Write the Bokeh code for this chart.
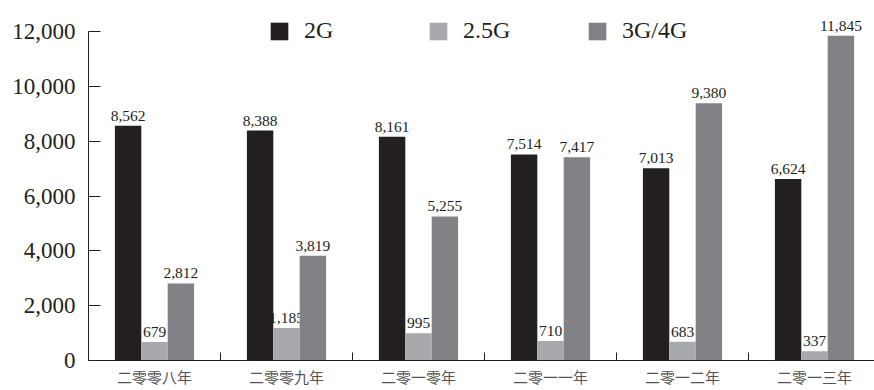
from bokeh.plotting import figure
from bokeh.models import (ColumnDataSource, Range1d, FixedTicker, NumeralTickFormatter,
                          Legend, LegendItem, LinearAxis)
from bokeh.core.properties import value
from bokeh.embed import file_html
from bokeh.resources import INLINE

# ---- data ----
years = ["二零零八年", "二零零九年", "二零一零年", "二零一一年", "二零一二年", "二零一三年"]
series_names = ["2G", "2.5G", "3G/4G"]
g2 = [8562, 8388, 8161, 7514, 7013, 6624]
g25 = [679, 1185, 995, 710, 683, 337]
g34 = [2812, 3819, 5255, 7417, 9380, 11845]
y_ticks = [0, 2000, 4000, 6000, 8000, 10000, 12000]

colors = ["#231f20", "#a7a9ac", "#808285"]
offsets = [-0.2, 0.0, 0.2]
serif = "Liberation Serif"
ink = "#231f20"

p = figure(width=874, height=390, output_backend="svg", toolbar_location=None,
           x_axis_type=None, y_axis_type=None,
           min_border_left=88, min_border_right=0, min_border_top=0, min_border_bottom=30)
p.x_range = Range1d(0, 786 / 132)
p.y_range = Range1d(0, 13131)
p.outline_line_color = None
p.xgrid.visible = False
p.ygrid.visible = False
p.background_fill_color = "white"
p.border_fill_color = "white"

# axes
yaxis = LinearAxis(ticker=FixedTicker(ticks=y_ticks),
                   formatter=NumeralTickFormatter(format="0,0"))
yaxis.bounds = (0, 12000)
yaxis.major_tick_in = 12
yaxis.major_tick_out = 0
yaxis.minor_tick_line_color = None
yaxis.axis_line_color = ink
yaxis.major_tick_line_color = ink
yaxis.major_label_text_font = serif
yaxis.major_label_text_font_size = "23px"
yaxis.major_label_text_color = ink
yaxis.major_label_standoff = 13
p.add_layout(yaxis, "left")

centers = [i + 0.5 for i in range(len(years))]
xaxis = LinearAxis(ticker=FixedTicker(ticks=centers, minor_ticks=[1, 2, 3, 4, 5]))
xaxis.major_label_overrides = {c: y for c, y in zip(centers, years)}
xaxis.major_tick_in = 0
xaxis.major_tick_out = 0
xaxis.major_tick_line_color = None
xaxis.minor_tick_in = 8
xaxis.minor_tick_out = 0
xaxis.minor_tick_line_color = ink
xaxis.axis_line_color = ink
xaxis.major_label_text_font = "Noto Sans CJK SC"
xaxis.major_label_text_font_size = "15px"
xaxis.major_label_text_color = "#555555"
xaxis.major_label_standoff = 5
p.add_layout(xaxis, "below")

items = []
for vals, name, col, off in zip([g2, g25, g34], series_names, colors, offsets):
    src = ColumnDataSource(dict(x=[c + off for c in centers], top=vals,
                                lab=[f"{v:,}" for v in vals]))
    r = p.vbar(x="x", top="top", width=0.2, bottom=0, source=src,
               fill_color=col, line_color=None)
    p.text(x="x", y="top", text="lab", source=src, text_align="center",
           text_baseline="bottom", y_offset=-5, text_font=value(serif),
           text_font_size="15.5px", text_color=ink)
    items.append(LegendItem(label=name, renderers=[r]))

legend = Legend(items=items, orientation="horizontal", location=(180, 316),
                glyph_width=22, glyph_height=22, label_standoff=14, label_width=123,
                spacing=0, padding=0, margin=0, border_line_color=None,
                background_fill_alpha=0, label_text_font=serif,
                label_text_font_size="24px", label_text_color=ink)
p.add_layout(legend, "center")

open("out.html", "w").write(file_html(p, INLINE))
